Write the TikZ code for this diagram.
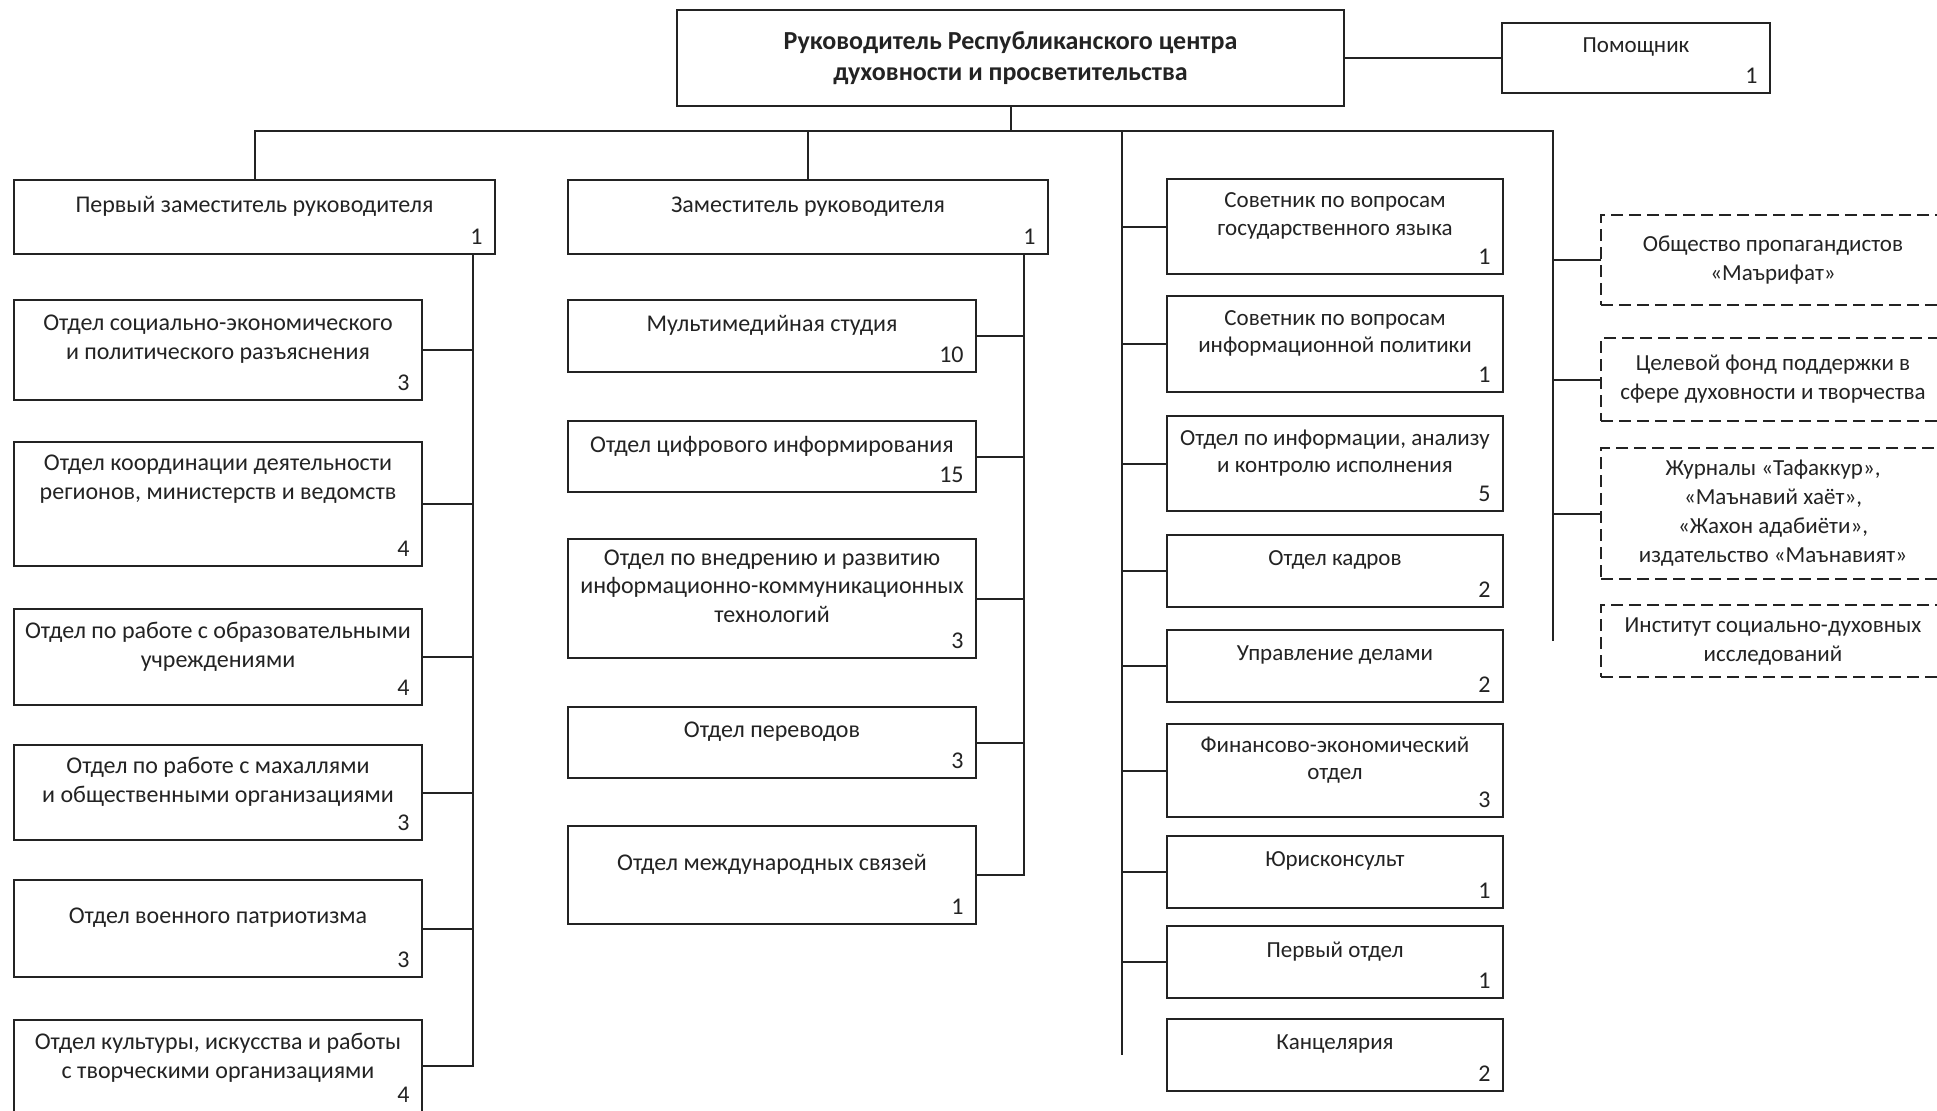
\documentclass[tikz,border=0pt]{standalone}
\usepackage{fontspec}
\setmainfont{Carlito}
\usetikzlibrary{positioning}
\definecolor{ink}{RGB}{35,35,35}

\begin{document}
\begin{tikzpicture}[x=0.5pt,y=-0.5pt,color=ink,
                    link/.style={line width=1pt},
                    num/.style={anchor=south east,inner xsep=6pt,inner ysep=4.5pt,text depth=0pt,font=\fontsize{12}{14}\selectfont}]
  \tikzstyle{unit}=[draw,line width=1.1pt,align=center,inner sep=0pt,outer sep=0pt]
  \tikzstyle{staff}=[unit,text depth=12.5pt,font=\fontsize{12}{14.4}\selectfont]
  \tikzstyle{dept}=[staff,minimum width=204pt]
  \tikzstyle{adv}=[unit,text depth=12.5pt,minimum width=168pt,font=\fontsize{11.5}{13.6}\selectfont]
  \tikzstyle{ext}=[unit,line width=1pt,dash pattern=on 6pt off 3pt,minimum width=172pt,font=\fontsize{11.5}{14.5}\selectfont]

  \useasboundingbox (0,0) rectangle (1937,1110);
  \fill[white] (0,0) rectangle (1937,1110);

  \node[unit,minimum width=333.5pt,minimum height=48pt,font=\fontsize{13}{15.5}\selectfont\bfseries] (head) at (1010.5,58) {Руководитель Республиканского центра\\духовности и просветительства};
  \node[adv,minimum width=134pt,minimum height=35pt,right=79pt of head,label={[num]south east:1}] (pom) {Помощник};

  \node[staff,minimum width=240.5pt,minimum height=37pt,label={[num]south east:1}] (d1) at (254.5,217) {Первый заместитель руководителя};
  \node[staff,minimum width=240pt,minimum height=37pt,label={[num]south east:1}] (d2) at (808,217) {Заместитель руководителя};

  \node[dept,minimum height=50pt,below=23pt of d1.south west,anchor=north west,label={[num]south east:3}] (l1) {Отдел социально-экономического\\и политического разъяснения};
  \node[dept,minimum height=62pt,text depth=27pt,below=21pt of l1,label={[num]south east:4}] (l2) {Отдел координации деятельности\\регионов, министерств и ведомств};
  \node[dept,minimum height=48pt,below=21.5pt of l2,label={[num]south east:4}] (l3) {Отдел по работе с образовательными\\учреждениями};
  \node[dept,minimum height=47.5pt,below=20pt of l3,label={[num]south east:3}] (l4) {Отдел по работе с махаллями\\и общественными организациями};
  \node[dept,minimum height=48.5pt,below=20pt of l4,label={[num]south east:3}] (l5) {Отдел военного патриотизма};
  \node[dept,minimum height=46pt,text depth=10.5pt,below=21.5pt of l5,label={[num]south east:4}] (l6) {Отдел культуры, искусства и работы\\с творческими организациями};

  \node[dept,minimum height=36pt,below=23pt of d2.south west,anchor=north west,label={[num]south east:10}] (m1) {Мультимедийная студия};
  \node[dept,minimum height=35.5pt,below=24.5pt of m1,label={[num]south east:15}] (m2) {Отдел цифрового информирования};
  \node[dept,minimum height=59.5pt,below=23.5pt of m2,label={[num]south east:3}] (m3) {Отдел по внедрению и развитию\\информационно-коммуникационных\\технологий};
  \node[dept,minimum height=35.5pt,below=24.5pt of m3,label={[num]south east:3}] (m4) {Отдел переводов};
  \node[dept,minimum height=49pt,below=24pt of m4,label={[num]south east:1}] (m5) {Отдел международных связей};

  \node[adv,minimum height=47.5pt,label={[num]south east:1}] (r1) at (1335,226.5) {Советник по вопросам\\государственного языка};
  \node[adv,minimum height=48pt,below=11pt of r1,label={[num]south east:1}] (r2) {Советник по вопросам\\информационной политики};
  \node[adv,minimum height=47.5pt,below=12pt of r2,label={[num]south east:5}] (r3) {Отдел по информации, анализу\\и контролю исполнения};
  \node[adv,minimum height=36pt,below=12pt of r3,label={[num]south east:2}] (r4) {Отдел кадров};
  \node[adv,minimum height=36pt,below=11.5pt of r4,label={[num]south east:2}] (r5) {Управление делами};
  \node[adv,minimum height=46.5pt,below=11pt of r5,label={[num]south east:3}] (r6) {Финансово-экономический\\отдел};
  \node[adv,minimum height=36pt,below=9.5pt of r6,label={[num]south east:1}] (r7) {Юрисконсульт};
  \node[adv,minimum height=36pt,below=9pt of r7,label={[num]south east:1}] (r8) {Первый отдел};
  \node[adv,minimum height=36pt,below=10.5pt of r8,label={[num]south east:2}] (r9) {Канцелярия};

  \node[ext,minimum height=45pt] (e1) at (1773,260) {Общество пропагандистов\\«Маърифат»};
  \node[ext,minimum height=41.5pt,below=16.5pt of e1] (e2) {Целевой фонд поддержки в\\сфере духовности и творчества};
  \node[ext,minimum height=65.5pt,below=13.5pt of e2] (e3) {Журналы «Тафаккур»,\\«Маънавий хаёт»,\\«Жахон адабиёти»,\\издательство «Маънавият»};
  \node[ext,minimum height=36pt,below=13pt of e3] (e4) {Институт социально-духовных\\исследований};

  \path (head.south) ++(0,25) coordinate (bus);
  \path (d1.south east) ++(-22,0) coordinate (tL);
  \path (d2.south east) ++(-24,0) coordinate (tM);
  \path (r9.west) ++(-45,0) coordinate (tR);
  \path (e4.west) ++(-48,0) coordinate (tE);

  \draw[link] (head) -- (pom);
  \draw[link] (head.south) -- (bus);
  \draw[link] (d1.north) |- (bus);
  \draw[link] (d2.north) |- (bus);
  \draw[link] (bus) -| (tR);
  \draw[link] (bus) -| (tE);
  \draw[link] (tL) |- (l6.east);
  \draw[link] (tM) |- (m5.east);

  \path[link] (l1.east) edge (l1.east -| tL)
              (l2.east) edge (l2.east -| tL)
              (l3.east) edge (l3.east -| tL)
              (l4.east) edge (l4.east -| tL)
              (l5.east) edge (l5.east -| tL)
        (m1.east) edge (m1.east -| tM)
              (m2.east) edge (m2.east -| tM)
              (m3.east) edge (m3.east -| tM)
              (m4.east) edge (m4.east -| tM)
        (r1.west) edge (r1.west -| tR)
              (r2.west) edge (r2.west -| tR)
              (r3.west) edge (r3.west -| tR)
              (r4.west) edge (r4.west -| tR)
              (r5.west) edge (r5.west -| tR)
              (r6.west) edge (r6.west -| tR)
              (r7.west) edge (r7.west -| tR)
              (r8.west) edge (r8.west -| tR)
        (e1.west) edge (e1.west -| tE)
              (e2.west) edge (e2.west -| tE)
              (e3.west) edge (e3.west -| tE);
\end{tikzpicture}
\end{document}
